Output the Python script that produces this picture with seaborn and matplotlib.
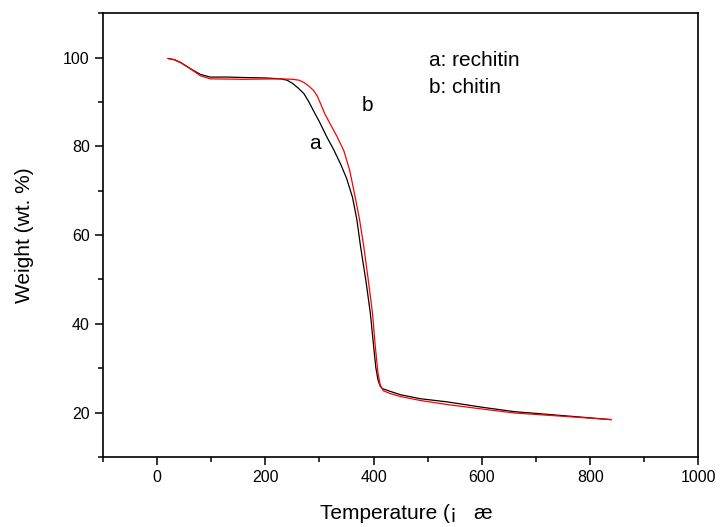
import pandas as pd
import seaborn as sns
import matplotlib.pyplot as plt
from matplotlib.ticker import MultipleLocator

# curve a: rechitin (black)
temp_a = [20, 32, 43, 55, 67, 80, 98, 130, 160, 200, 228, 240, 250, 260, 271, 280,
          289, 300, 314, 326, 339, 350, 361, 369, 376, 386, 394, 400, 404, 408, 412,
          416, 430, 450, 487, 536, 600, 660, 720, 780, 839]
weight_a = [99.8, 99.5, 98.9, 98.0, 97.1, 96.2, 95.6, 95.6, 95.5, 95.4, 95.2, 94.9,
            94.2, 93.2, 91.9, 90.1, 88.0, 85.5, 82.0, 79.3, 76.0, 72.8, 68.5, 63.5,
            57.3, 49.5, 42.3, 35.0, 30.2, 27.4, 26.0, 25.4, 24.8, 24.0, 23.1, 22.4,
            21.2, 20.2, 19.6, 19.0, 18.4]

# curve b: chitin (red)
temp_b = [20, 32, 43, 55, 67, 80, 98, 160, 228, 250, 262, 271, 280, 289, 296, 302,
          310, 320, 332, 345, 356, 366, 374, 382, 390, 398, 403, 408, 412, 418, 430,
          450, 487, 536, 600, 660, 720, 780, 839]
weight_b = [99.8, 99.5, 98.9, 98.0, 97.0, 95.9, 95.2, 95.1, 95.2, 95.1, 94.9, 94.4,
            93.6, 92.6, 91.3, 89.6, 87.3, 85.0, 82.3, 79.0, 74.5, 68.5, 63.5, 57.3,
            50.0, 42.3, 35.0, 29.0, 26.3, 24.9, 24.3, 23.6, 22.7, 21.8, 20.8, 19.9,
            19.4, 18.9, 18.4]

sns.set_style("ticks")
plt.rcParams['font.family'] = ['Liberation Sans', 'DejaVu Sans']
plt.rcParams['text.color'] = 'black'
plt.rcParams['axes.labelcolor'] = 'black'
plt.rcParams['xtick.color'] = 'black'
plt.rcParams['ytick.color'] = 'black'
plt.rcParams['axes.edgecolor'] = 'black'

fig = plt.figure(figsize=(7.2, 5.27), dpi=100)
ax = fig.add_axes([0.143, 0.133, 0.827, 0.842])

df_a = pd.DataFrame({"temp": temp_a, "weight": weight_a})
df_b = pd.DataFrame({"temp": temp_b, "weight": weight_b})
sns.lineplot(data=df_a, x="temp", y="weight", color="black", linewidth=0.9, ax=ax)
sns.lineplot(data=df_b, x="temp", y="weight", color="red", linewidth=0.9, ax=ax)

ax.set_xlim(-100, 1000)
ax.set_ylim(10, 110)
ax.xaxis.set_major_locator(MultipleLocator(200))
ax.xaxis.set_minor_locator(MultipleLocator(100))
ax.yaxis.set_major_locator(MultipleLocator(20))
ax.yaxis.set_minor_locator(MultipleLocator(10))
ax.tick_params(which="major", length=6, width=1.1, labelsize=11.5, direction="out")
ax.tick_params(which="minor", length=3.5, width=1.1, direction="out")

for sp in ax.spines.values():
    sp.set_linewidth(1.2)
    sp.set_visible(True)

ax.set_xlabel("Temperature (¡   æ", fontsize=15, labelpad=14)
ax.xaxis.set_label_coords(0.51, -0.105)
ax.set_ylabel("Weight (wt. %)", fontsize=15, labelpad=21)

ax.text(502, 99.3, "a: rechitin", fontsize=15, va="center")
ax.text(502, 93.2, "b: chitin", fontsize=15, va="center")
ax.text(291, 80.6, "a", fontsize=15, va="center", ha="center")
ax.text(389, 89.2, "b", fontsize=15, va="center", ha="center")

fig.savefig("out.png", dpi=100)
